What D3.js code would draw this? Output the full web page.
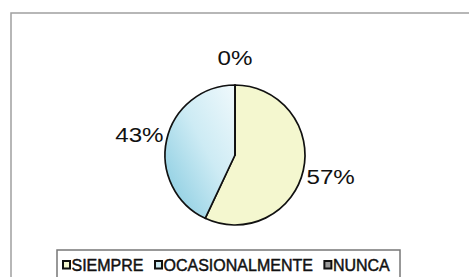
<!DOCTYPE html>
<html><head><meta charset="utf-8">
<script src="https://cdn.jsdelivr.net/npm/d3@7"></script>
<style>html,body{margin:0;padding:0;background:#fff;}svg{display:block;}</style>
</head><body>
<svg id="c" width="469" height="277"></svg>
<script>
const categories = ["SIEMPRE", "OCASIONALMENTE", "NUNCA"];
const values = [57, 43, 0];
const labels = ["57%", "43%", "0%"];
const colors = ["#f4f7cf", "url(#blueGrad)", "#9a9a9a"];
const legendFill = ["#f4f7cf", "#cdebf3", "#9a9a9a"];

const svg = d3.select("#c");
const defs = svg.append("defs");
const g1 = defs.append("linearGradient").attr("id","blueGrad")
  .attr("x1","1").attr("y1","0").attr("x2","0").attr("y2","1");
g1.append("stop").attr("offset","0%").attr("stop-color","#f0f9fc");
g1.append("stop").attr("offset","45%").attr("stop-color","#cdebf4");
g1.append("stop").attr("offset","100%").attr("stop-color","#80c8de");

// outer frame
svg.append("rect").attr("x",11).attr("y",13).attr("width",480).attr("height",300)
  .attr("fill","none").attr("stroke","#a0a0a0").attr("stroke-width",1.5);

const cx = 235, cy = 155, R = 70;
const pie = d3.pie().sort(null).value(d => d)(values);
const arc = d3.arc().innerRadius(0).outerRadius(R);
const pg = svg.append("g").attr("transform",`translate(${cx},${cy})`);
pg.selectAll("path").data(pie).join("path")
  .attr("d", arc)
  .attr("fill", (d,i) => colors[i])
  .attr("stroke","#111").attr("stroke-width",1.7).attr("stroke-linejoin","round");

const labR = 98;
pg.selectAll("text").data(pie).join("text")
  .attr("transform", d => {
    const a = (d.startAngle + d.endAngle)/2;
    return `translate(${labR*Math.sin(a)},${-labR*Math.cos(a) + 1}) scale(1.15,1)`;
  })
  .attr("text-anchor","middle").attr("dominant-baseline","central")
  .attr("font-family","Liberation Sans, Arial, sans-serif").attr("font-size",21)
  .attr("fill","#111")
  .text((d,i) => labels[i]);

// legend
const lg = svg.append("g");
lg.append("rect").attr("x",57).attr("y",250).attr("width",343).attr("height",40)
  .attr("fill","#fff").attr("stroke","#777").attr("stroke-width",1.5);
let x = 62;
categories.forEach((c,i) => {
  lg.append("rect").attr("x",x+1).attr("y",261).attr("width",7).attr("height",7.5)
    .attr("fill",legendFill[i]).attr("stroke","#111").attr("stroke-width",2);
  const t = lg.append("text").attr("x",x+9.5).attr("y",270.5)
    .attr("font-family","Liberation Sans, Arial, sans-serif").attr("font-size",16)
    .attr("fill","#111").attr("stroke","#111").attr("stroke-width",0.45).text(c);
  x = x + 9.5 + t.node().getComputedTextLength() + 10.5;
});
</script>
</body></html>
